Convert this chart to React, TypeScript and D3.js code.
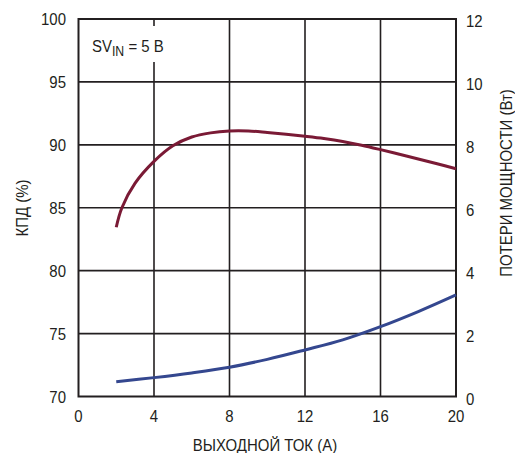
import React from "react";
import * as d3 from "d3";

const currentA = [2, 2.3, 3, 4, 5, 6, 7, 8, 9, 10, 11, 12, 13, 14, 15, 16, 17, 18, 19, 20];
const efficiency = [83.45, 85.0, 86.95, 88.68, 89.92, 90.62, 90.95, 91.1, 91.1, 90.98, 90.84, 90.68, 90.5, 90.27, 89.97, 89.62, 89.25, 88.88, 88.5, 88.1];
const lossCurrent = [2, 4, 6, 8, 10, 12, 14, 16, 18, 20];
const powerLoss = [0.47, 0.6, 0.75, 0.93, 1.18, 1.48, 1.8, 2.22, 2.7, 3.23];
const xTicks = [0, 4, 8, 12, 16, 20];
const leftTicks = [70, 75, 80, 85, 90, 95, 100];
const rightTicks = [0, 2, 4, 6, 8, 10, 12];

const W = 515, H = 453;
const L = 78.5, R = 456, T = 19, B = 396.5;
const FONT = "'Liberation Sans', Arial, sans-serif";
const SX = 0.88;

function T2({ x, y, anchor = "middle", size = 17, children, rotate = 0 }: any) {
  return (
    <text
      transform={`translate(${x},${y}) rotate(${rotate}) scale(${SX},1)`}
      textAnchor={anchor}
      fontFamily={FONT}
      fontSize={size}
      fill="#231f20"
    >
      {children}
    </text>
  );
}

export default function App() {
  const x = d3.scaleLinear().domain([0, 20]).range([L, R]);
  const yL = d3.scaleLinear().domain([70, 100]).range([B, T]);
  const yR = d3.scaleLinear().domain([0, 12]).range([B, T]);

  const effLine = d3
    .line<number>()
    .x((_, i) => x(currentA[i]))
    .y((d) => yL(d))
    .curve(d3.curveCatmullRom.alpha(0.5))(efficiency) as string;
  const lossLine = d3
    .line<number>()
    .x((_, i) => x(lossCurrent[i]))
    .y((d) => yR(d))
    .curve(d3.curveCatmullRom.alpha(0.5))(powerLoss) as string;

  const grid = "#231f20";
  return (
    <svg width={W} height={H} style={{ position: "absolute", left: 0, top: 0, background: "#fff" }}>
      <rect x={0} y={0} width={W} height={H} fill="#fff" />
      {xTicks.slice(1, -1).map((t) => (
        <line key={"gx" + t} x1={x(t)} x2={x(t)} y1={T} y2={B} stroke={grid} strokeWidth={1.6} />
      ))}
      {leftTicks.slice(1, -1).map((t) => (
        <line key={"gy" + t} x1={L} x2={R} y1={yL(t)} y2={yL(t)} stroke={grid} strokeWidth={1.6} />
      ))}
      <rect x={L} y={T} width={R - L} height={B - T} fill="none" stroke={grid} strokeWidth={2} />
      <rect x={86} y={26} width={94} height={36} fill="#fff" />
      <text transform={`translate(92,52) scale(${SX},1)`} fontFamily={FONT} fontSize={17} fill="#231f20">
        SV<tspan fontSize={14} dy={4}>IN</tspan>
        <tspan dy={-4}> = 5 B</tspan>
      </text>
      <path d={effLine} fill="none" stroke="#7a1a35" strokeWidth={3} />
      <path d={lossLine} fill="none" stroke="#34478f" strokeWidth={3} />
      {leftTicks.map((t) => (
        <T2 key={"lt" + t} x={66} y={yL(t) + 6} anchor="end">{t}</T2>
      ))}
      {rightTicks.map((t) => (
        <T2 key={"rt" + t} x={466} y={yR(t) + 8} anchor="start">{t}</T2>
      ))}
      {xTicks.map((t) => (
        <T2 key={"xt" + t} x={x(t)} y={422}>{t}</T2>
      ))}
      <T2 x={265} y={451}>ВЫХОДНОЙ ТОК (А)</T2>
      <T2 x={28} y={208} rotate={-90}>КПД (%)</T2>
      <T2 x={512} y={183} rotate={-90}>ПОТЕРИ МОЩНОСТИ (Вт)</T2>
    </svg>
  );
}
